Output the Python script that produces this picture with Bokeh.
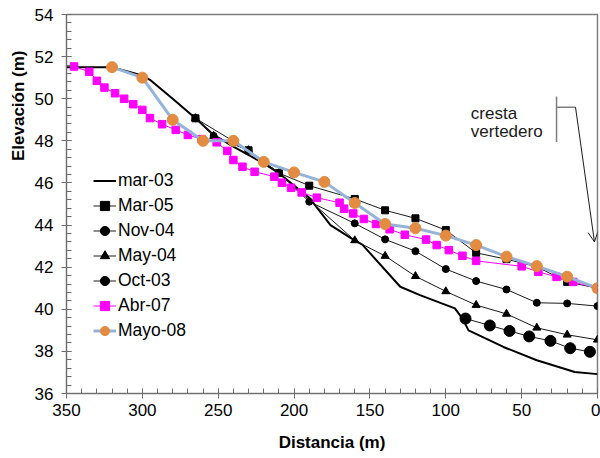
from bokeh.plotting import figure
from bokeh.models import Range1d, SingleIntervalTicker, Label, Arrow, OpenHead, Title
from bokeh.embed import file_html
from bokeh.resources import INLINE

# ---- data ----
mar03_x = [350, 320, 300, 295, 280, 265, 253, 240, 220, 210, 190, 176, 162, 155, 130, 117, 94, 89, 85, 62, 40, 15, 0]
mar03_y = [51.5, 51.5, 51.1, 50.9, 50.0, 49.07, 48.28, 47.72, 46.93, 46.46, 45.3, 44.0, 43.36, 43.07, 41.07, 40.67, 40.04, 39.56, 39.0, 38.21, 37.58, 37.02, 36.92]

mar05_x = [265, 230, 210, 190, 160, 140, 120, 100, 80, 60, 40, 20, 0]
mar05_y = [49.07, 47.55, 46.47, 45.87, 45.24, 44.70, 44.32, 43.76, 42.68, 42.38, 42.02, 41.30, 41.0]

nov04_x = [265, 253, 230, 210, 190, 160, 140, 120, 100, 80, 60, 40, 20, 0]
nov04_y = [49.07, 48.23, 47.55, 46.47, 45.11, 44.08, 43.32, 42.76, 41.91, 41.34, 40.94, 40.31, 40.28, 40.15]

may04_x = [265, 253, 230, 210, 160, 140, 120, 100, 80, 60, 40, 20, 0]
may04_y = [49.07, 48.23, 47.55, 46.47, 43.27, 42.53, 41.57, 40.85, 40.20, 39.78, 39.12, 38.79, 38.55]

oct03_x = [87, 71, 58, 45, 31, 18, 5]
oct03_y = [39.56, 39.23, 38.97, 38.71, 38.50, 38.15, 37.98]

abr07_x = [345, 335, 330, 325, 318, 312, 306, 300, 295, 287, 278, 270, 261, 251, 244, 240, 234, 226,
           213, 208, 202, 195, 185, 170, 167, 161, 154, 146, 137, 127, 113, 106, 98, 89, 80, 50, 39, 27, 16, 0]
abr07_y = [51.53, 51.28, 50.85, 50.53, 50.26, 50.0, 49.74, 49.47, 49.08, 48.79, 48.52, 48.28, 48.08, 47.93,
           47.52, 47.09, 46.77, 46.53, 46.30, 46.01, 45.77, 45.55, 45.30, 45.06, 44.78, 44.55, 44.29, 44.05,
           43.80, 43.54, 43.31, 43.05, 42.81, 42.54, 42.30, 42.04, 41.78, 41.54, 41.30, 40.99]

mayo08_x = [320, 300, 280, 260, 240, 220, 200, 180, 160, 140, 120, 100, 80, 60, 40, 20, 0]
mayo08_y = [51.5, 51.0, 49.0, 48.0, 48.0, 47.0, 46.5, 46.05, 45.05, 44.05, 43.85, 43.5, 43.05, 42.5, 42.05, 41.55, 41.0]

FONT = "Liberation Sans"

p = figure(width=600, height=458, output_backend="svg", toolbar_location=None,
           x_range=Range1d(350, 0), y_range=Range1d(36, 54),
           min_border_left=66, min_border_right=3, min_border_top=14, min_border_bottom=65)
p.xgrid.visible = False
p.ygrid.visible = False
p.outline_line_color = "#7f7f7f"
p.outline_line_width = 1.5
p.background_fill_color = "white"
p.border_fill_color = "white"

p.xaxis.ticker = SingleIntervalTicker(interval=50, num_minor_ticks=5)
p.yaxis.ticker = SingleIntervalTicker(interval=2, num_minor_ticks=5)
for ax in (p.xaxis[0], p.yaxis[0]):
    ax.axis_line_color = "#6e6e6e"
    ax.major_tick_line_color = "#6e6e6e"
    ax.minor_tick_line_color = "#6e6e6e"
    ax.major_tick_in = 5
    ax.major_tick_out = 5
    ax.minor_tick_in = 5
    ax.minor_tick_out = 0
    ax.major_label_text_font = FONT
    ax.major_label_text_font_size = "17px"
    ax.major_label_text_color = "#000000"
p.xaxis.major_label_standoff = 5
p.yaxis.major_label_standoff = 8

p.xaxis.axis_label = "Distancia (m)"
p.xaxis.axis_label_text_font = FONT
p.xaxis.axis_label_text_font_size = "17px"
p.xaxis.axis_label_text_font_style = "bold"
p.xaxis.axis_label_text_color = "#000000"
p.xaxis.axis_label_standoff = 14

# y axis title (placed towards the top, as in the reference)
p.add_layout(Title(text="Elevación (m)", align="right", offset=36, standoff=7,
                   text_font=FONT, text_font_size="17px", text_font_style="bold",
                   text_color="#000000"), "left")

# series
p.line(mar03_x, mar03_y, line_color="#000000", line_width=2, legend_label="mar-03")

p.line(mar05_x, mar05_y, line_color="#1a1a1a", line_width=1, legend_label="Mar-05")
p.scatter(mar05_x, mar05_y, marker="square", size=7, fill_color="#000000", line_color="#000000",
          legend_label="Mar-05")

p.line(nov04_x, nov04_y, line_color="#1a1a1a", line_width=1, legend_label="Nov-04")
p.scatter(nov04_x, nov04_y, marker="circle", size=7, fill_color="#000000", line_color="#000000",
          legend_label="Nov-04")

p.line(may04_x, may04_y, line_color="#1a1a1a", line_width=1, legend_label="May-04")
p.scatter(may04_x, may04_y, marker="triangle", size=8, fill_color="#000000", line_color="#000000",
          legend_label="May-04")

p.line(oct03_x, oct03_y, line_color="#1a1a1a", line_width=1, legend_label="Oct-03")
p.scatter(oct03_x, oct03_y, marker="circle", size=11, fill_color="#000000", line_color="#000000",
          legend_label="Oct-03")

p.line(abr07_x, abr07_y, line_color="#ff00ff", line_width=1, legend_label="Abr-07")
p.scatter(abr07_x, abr07_y, marker="square", size=7.5, fill_color="#ff00ff", line_color="#ff00ff",
          legend_label="Abr-07")

p.line(mayo08_x, mayo08_y, line_color="#95b3d7", line_width=3, legend_label="Mayo-08")
p.scatter(mayo08_x, mayo08_y, marker="circle", size=11, fill_color="#e38b40", line_color="#e38b40",
          legend_label="Mayo-08")

# annotation: cresta vertedero
p.add_layout(Label(x=83.5, y=49.3, text="cresta", text_align="left", text_baseline="middle",
                   text_font=FONT, text_font_size="17px", text_color="#1a1a1a"))
p.add_layout(Label(x=83.5, y=48.42, text="vertedero", text_align="left", text_baseline="middle",
                   text_font=FONT, text_font_size="17px", text_color="#1a1a1a"))
p.add_layout(Arrow(start=None, end=None, x_start=27, y_start=50.1, x_end=27, y_end=47.95,
                   line_color="#7f7f7f", line_width=1.5))
p.add_layout(Arrow(start=None, end=None, x_start=27, y_start=49.6, x_end=14.5, y_end=49.6,
                   line_color="#7f7f7f", line_width=1.5))
p.add_layout(Arrow(end=OpenHead(size=10, line_color="#1a1a1a", line_width=1), x_start=14.5, y_start=49.6,
                   x_end=2, y_end=43.2, line_color="#1a1a1a", line_width=1))

lg = p.legend[0]
lg.location = (27, 50)
lg.padding = 0
lg.margin = 0
lg.spacing = 0
lg.label_height = 25
lg.glyph_height = 25
lg.glyph_width = 23
lg.label_standoff = 2
lg.border_line_color = None
lg.background_fill_alpha = 0
lg.label_text_font = FONT
lg.label_text_font_size = "17.5px"
lg.label_text_color = "#000000"

open("out.html", "w").write(file_html(p, INLINE))
